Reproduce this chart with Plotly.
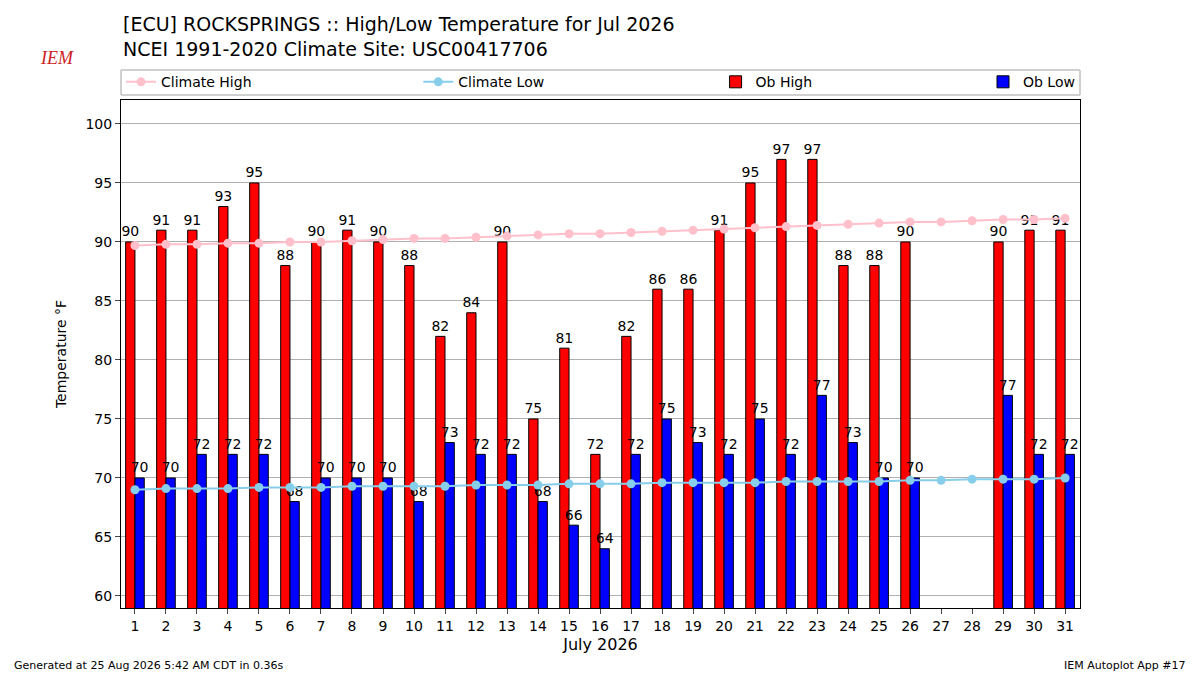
import plotly.graph_objects as go

DAYS = list(range(1, 32))
OB_HIGH = [90, 91, 91, 93, 95, 88, 90, 91, 90, 88, 82, 84, 90, 75, 81, 72, 82, 86, 86, 91,
           95, 97, 97, 88, 88, 90, None, None, 90, 91, 91]
OB_LOW = [70, 70, 72, 72, 72, 68, 70, 70, 70, 68, 73, 72, 72, 68, 66, 64, 72, 75, 73, 72,
          75, 72, 77, 73, 70, 70, None, None, 77, 72, 72]
CLIMATE_HIGH = [89.7, 89.8, 89.8, 89.9, 89.9, 90.0, 90.0, 90.1, 90.2, 90.3, 90.3, 90.4, 90.5,
                90.6, 90.7, 90.7, 90.8, 90.9, 91.0, 91.1, 91.2, 91.3, 91.4, 91.5, 91.6, 91.7,
                91.7, 91.8, 91.9, 91.9, 92.0]
CLIMATE_LOW = [69.0, 69.1, 69.1, 69.1, 69.2, 69.2, 69.2, 69.3, 69.3, 69.3, 69.3, 69.4, 69.4,
               69.4, 69.5, 69.5, 69.5, 69.6, 69.6, 69.6, 69.6, 69.7, 69.7, 69.7, 69.7, 69.8,
               69.8, 69.9, 69.9, 69.9, 70.0]
WEEKENDS = [(4, 5), (11, 12), (18, 19), (25, 26)]

FONT = "DejaVu Sans"
fig = go.Figure()

for a, b in WEEKENDS:
    fig.add_vrect(x0=a - 0.5, x1=b + 0.5, fillcolor="#efefef", line_width=0, layer="below")

def lbl(v):
    # blank line below lifts the label a little above the bar top
    return ["" if x is None else f"{x}<br> " for x in v]

bar_w = 0.3
fig.add_trace(go.Bar(x=DAYS, y=OB_HIGH, name="Ob High", width=bar_w, offset=-bar_w,
                     marker=dict(color="red", line=dict(color="black", width=1)),
                     legend="legend3"))
fig.add_trace(go.Bar(x=DAYS, y=OB_LOW, name="Ob Low", width=bar_w, offset=0,
                     marker=dict(color="blue", line=dict(color="black", width=1)),
                     legend="legend4"))
fig.add_trace(go.Scatter(x=[d - bar_w / 2 for d in DAYS], y=OB_HIGH, mode="text",
                         text=lbl(OB_HIGH), textposition="middle center", showlegend=False,
                         textfont=dict(size=14, color="black"), cliponaxis=False))
fig.add_trace(go.Scatter(x=[d + bar_w / 2 for d in DAYS], y=OB_LOW, mode="text",
                         text=lbl(OB_LOW), textposition="middle center", showlegend=False,
                         textfont=dict(size=14, color="black"), cliponaxis=False))
fig.add_trace(go.Scatter(x=DAYS, y=CLIMATE_HIGH, mode="lines+markers", name="Climate High",
                         line=dict(color="pink", width=2), marker=dict(size=9, color="pink"),
                         legend="legend"))
fig.add_trace(go.Scatter(x=DAYS, y=CLIMATE_LOW, mode="lines+markers", name="Climate Low",
                         line=dict(color="skyblue", width=2), marker=dict(size=9, color="skyblue"),
                         legend="legend2"))

leg_y = 1.035
leg = dict(yref="paper", y=leg_y, yanchor="middle", bgcolor="rgba(0,0,0,0)",
           font=dict(size=14), borderwidth=0)

fig.update_layout(
    width=1200, height=675, barmode="overlay",
    plot_bgcolor="white", paper_bgcolor="white",
    font=dict(family=FONT, size=13, color="black"),
    margin=dict(l=121, r=120, t=100, b=67, autoexpand=False),
    showlegend=True,
    legend=dict(x=0.0, xanchor="left", **leg),
    legend2=dict(x=0.31, xanchor="left", **leg),
    legend3=dict(x=0.62, xanchor="left", **leg),
    legend4=dict(x=1.0, xanchor="right", **leg),
    xaxis=dict(range=[0.55, 31.48], tickvals=DAYS, showgrid=False, ticks="outside",
               showline=True, linecolor="black", mirror=True, tickfont=dict(size=14),
               title=dict(text="July 2026", font=dict(size=16), standoff=6)),
    yaxis=dict(range=[58.98, 102.03], tickvals=list(range(60, 101, 5)), showgrid=True,
               gridcolor="#b0b0b0", ticks="outside", showline=True, linecolor="black",
               mirror=True, zeroline=False, tickfont=dict(size=14),
               title=dict(text="Temperature °F", font=dict(size=14))),
    shapes=[dict(type="rect", xref="paper", yref="paper", x0=0, x1=1.0,
                 y0=(608 - 95) / 508, y1=(608 - 70) / 508,
                 line=dict(color="#cccccc", width=1), fillcolor="rgba(0,0,0,0)")],
    annotations=[
        dict(text="[ECU] ROCKSPRINGS :: High/Low Temperature for Jul 2026<br>NCEI 1991-2020 Climate Site: USC00417706",
             xref="paper", yref="paper", x=0, y=(608 - 11) / 508, xanchor="left", yanchor="top",
             showarrow=False, font=dict(size=19), align="left"),
        dict(text="<i>IEM</i>", xref="paper", yref="paper", x=(38 - 121) / 959,
             y=(608 - 46) / 508, showarrow=False,
             font=dict(size=18, color="#cc2222", family="Liberation Serif")),
        dict(text="Generated at 25 Aug 2026 5:42 AM CDT in 0.36s", xref="paper", yref="paper",
             x=(12 - 121) / 959, y=(608 - 665) / 508, xanchor="left", yanchor="middle",
             showarrow=False, font=dict(size=11)),
        dict(text="IEM Autoplot App #17", xref="paper", yref="paper", x=(1188 - 121) / 959,
             y=(608 - 665) / 508, xanchor="right", yanchor="middle", showarrow=False,
             font=dict(size=11)),
    ],
)

fig.write_html("out.html", config={"displayModeBar": False},
               post_script="document.body.style.margin='0';")
